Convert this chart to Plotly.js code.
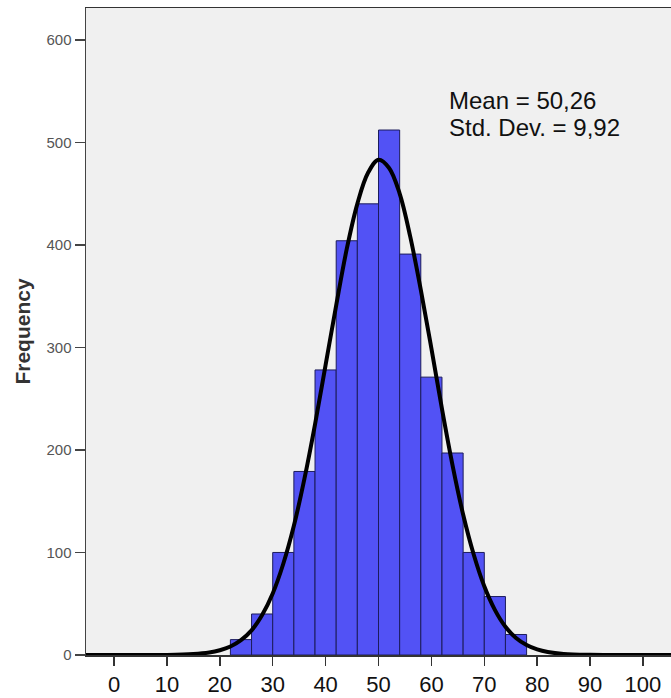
<!DOCTYPE html>
<html>
<head>
<meta charset="utf-8">
<script src="https://cdn.plot.ly/plotly-3.0.1.min.js"></script>
<style>html,body{margin:0;padding:0;background:#fff;}#chart{width:671px;height:698px;}</style>
</head>
<body>
<div id="chart"></div>
<script>
// Histogram bins (width 4) and counts
const binCenters = [24, 28, 32, 36, 40, 44, 48, 52, 56, 60, 64, 68, 72, 76];
const counts     = [15, 40, 100, 179, 278, 404, 440, 512, 391, 271, 197, 100, 57, 20];
const binWidth = 4;

// Fitted normal curve
const curveX = [-6, 0, 5, 10, 15, 18, 20, 22, 24, 26, 28, 30, 32, 34, 36, 38, 40, 42, 44, 46, 48, 50, 52, 54, 56, 58, 60, 62, 64, 66, 68, 70, 72, 74, 76, 78, 80, 82, 85, 90, 95, 100, 106];
const curveY = [0, 0, 0, 0.1, 0.9, 2.4, 4.6, 8.3, 14.5, 24, 39, 60, 89, 126, 172, 225, 283, 341, 396, 440, 470, 483, 475, 450, 408, 356, 299, 240, 185, 137, 98, 67, 44, 27.5, 16.6, 9.7, 5.4, 2.9, 1.05, 0.16, 0, 0, 0];

const xTicks = [0, 10, 20, 30, 40, 50, 60, 70, 80, 90, 100];
const yTicks = [0, 100, 200, 300, 400, 500, 600];
const stats = ["Mean = 50,26", "Std. Dev. = 9,92"];

const font = "Liberation Sans, Arial, sans-serif";

const traces = [
  {
    type: "bar",
    x: binCenters,
    y: counts,
    width: binWidth,
    marker: { color: "#5252f5", line: { color: "#1c1c5c", width: 1 } },
    hoverinfo: "x+y"
  },
  {
    type: "scatter",
    mode: "lines",
    x: curveX,
    y: curveY,
    line: { color: "#000", width: 4, shape: "spline", smoothing: 1 },
    hoverinfo: "skip"
  }
];

const layout = {
  width: 671,
  height: 698,
  margin: { l: 86, r: 0, t: 8, b: 43 },
  paper_bgcolor: "#ffffff",
  plot_bgcolor: "#f0f0f0",
  showlegend: false,
  bargap: 0,
  font: { family: font },
  xaxis: {
    range: [-5.3, 105.3],
    tickmode: "array",
    tickvals: xTicks,
    ticktext: xTicks.map(String),
    ticks: "outside",
    ticklen: 9,
    tickwidth: 1.5,
    tickcolor: "#333",
    tickfont: { family: font, size: 22, color: "#111" },
    showgrid: false,
    zeroline: false,
    showline: true,
    linecolor: "#333",
    linewidth: 1.5,
    mirror: true
  },
  yaxis: {
    range: [0, 631],
    tickmode: "array",
    tickvals: yTicks,
    ticks: "outside",
    ticklen: 10,
    tickwidth: 1.5,
    tickcolor: "#444",
    tickfont: { family: font, size: 15, color: "#555" },
    showgrid: false,
    zeroline: false,
    showline: true,
    linecolor: "#444",
    linewidth: 1.5,
    title: { text: "<b>Frequency</b>", font: { family: font, size: 21, color: "#333" }, standoff: 10 }
  },
  annotations: [
    {
      xref: "paper", yref: "paper",
      x: (448 - 86) / 585, y: (655 - 101) / 647,
      xanchor: "left", yanchor: "middle",
      text: stats[0], showarrow: false, borderpad: 0,
      font: { family: font, size: 24, color: "#111" }
    },
    {
      xref: "paper", yref: "paper",
      x: (448 - 86) / 585, y: (655 - 128) / 647,
      xanchor: "left", yanchor: "middle",
      text: stats[1], showarrow: false, borderpad: 0,
      font: { family: font, size: 24, color: "#111" }
    }
  ]
};

Plotly.newPlot("chart", traces, layout, { displayModeBar: false, staticPlot: true });
</script>
</body>
</html>
